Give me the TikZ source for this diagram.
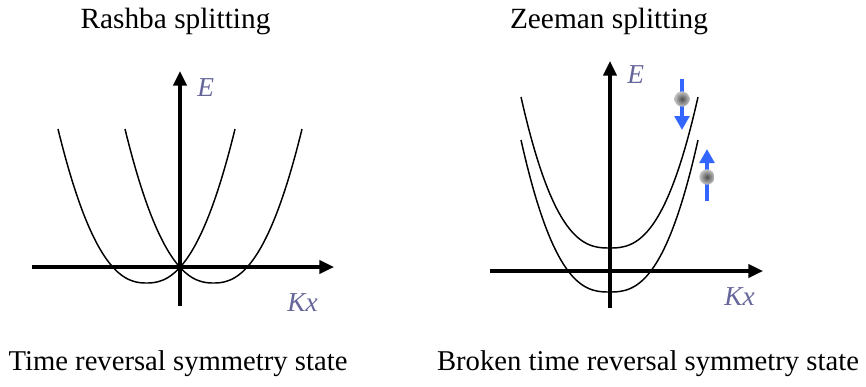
\documentclass[tikz,border=0pt]{standalone}
\usepackage{fontspec}
\setmainfont{Liberation Serif}
\usetikzlibrary{arrows.meta}
\definecolor{labc}{HTML}{66669A}
\definecolor{spinblue}{HTML}{3366FF}
\tikzset{
  axis/.style={line width=2.3pt,-{Triangle[length=11pt,width=10pt]}},
  band/.style={line width=1.1pt},
  title/.style={anchor=base,inner sep=0pt,font=\fontsize{22}{25}\selectfont},
  caption/.style={anchor=base,inner sep=0pt,font=\fontsize{21.5}{24}\selectfont},
  axlab/.style={anchor=base west,inner sep=0pt,text=labc,font=\fontsize{20.5}{24}\selectfont\itshape},
  spin/.style={spinblue,line width=2.6pt,-{Triangle[length=10.5pt,width=11pt]}},
  ball/.style={circle,inner sep=0pt,minimum size=11.5pt,shading=radial,inner color=gray!60!black,outer color=gray!45}
}
\begin{document}
\begin{tikzpicture}[x=0.75pt,y=-0.75pt]
\useasboundingbox (0,0) rectangle (866,386);
% titles and captions
\node[title] (t1) at (175.5,28) {Rashba splitting};
\node[title] (t2) at (609,28) {Zeeman splitting};
\node[caption] (c1) at (178,370) {Time reversal symmetry state};
\node[caption] (c2) at (648,370) {Broken time reversal symmetry state};
% left axes
\coordinate (lxs) at (32,267);
\coordinate (lxe) at (334,267);
\coordinate (lys) at (180,306);
\coordinate (lye) at (180,71);
\draw[axis] (lxs) -- (lxe);
\draw[axis] (lys) -- (lye);
\node[axlab] (lE) at (197,96) {E};
\node[axlab] (lK) at (287,311) {Kx};
% left bands
\draw[band] plot[domain=-88.5:88.5,samples=90] ({146.5+\x},{283-154*(abs(\x)/88.5)^2.35});
\draw[band] plot[domain=-88.5:88.5,samples=90] ({213.5+\x},{283-154*(abs(\x)/88.5)^2.35});
% right axes
\coordinate (rxs) at (490,271);
\coordinate (rxe) at (763,271);
\coordinate (rys) at (610,308);
\coordinate (rye) at (610,61);
\draw[axis] (rxs) -- (rxe);
\draw[axis] (rys) -- (rye);
\node[axlab] (rE) at (627,83) {E};
\node[axlab] (rK) at (724,305) {Kx};
% right bands
\draw[band] plot[domain=-88.5:88.5,samples=90] ({609.5+\x},{248-151*(abs(\x)/88.5)^2.6});
\draw[band] plot[domain=-88.5:88.5,samples=90] ({609.5+\x},{292-152*(abs(\x)/88.5)^2.6});
% spins
\coordinate (d0) at (682,79);
\coordinate (d1) at (682,130);
\coordinate (u0) at (707,201);
\coordinate (u1) at (707,149);
\draw[spin] (d0) -- (d1);
\draw[spin] (u0) -- (u1);
\node[ball] (bd) at (682,99) {};
\node[ball] (bu) at (707,177) {};
\end{tikzpicture}
\end{document}
